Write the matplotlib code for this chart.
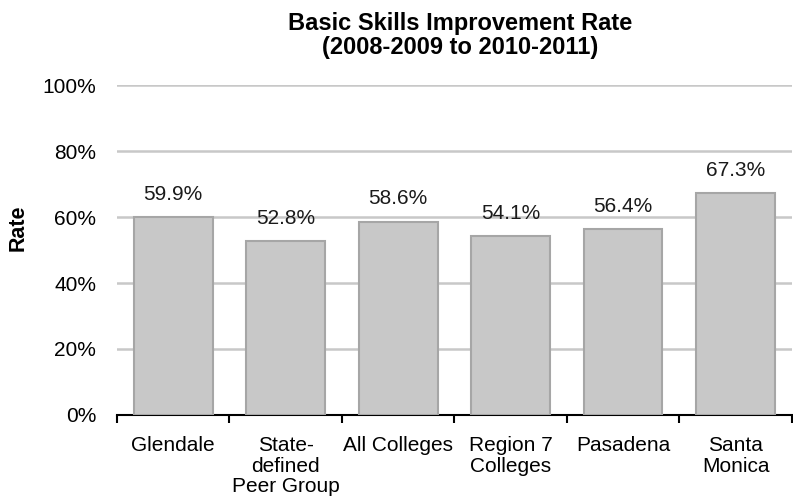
import matplotlib

matplotlib.use("Agg")
import matplotlib.pyplot as plt
import numpy as np

# ---------------------------------------------------------------------------
# Data
# ---------------------------------------------------------------------------
CATEGORIES = [
    "Glendale",
    "State-\ndefined\nPeer Group",
    "All Colleges",
    "Region 7\nColleges",
    "Pasadena",
    "Santa\nMonica",
]
RATES = [59.9, 52.8, 58.6, 54.1, 56.4, 67.3]
Y_TICKS = [0, 20, 40, 60, 80, 100]

plt.rcParams["font.family"] = ["Liberation Sans", "DejaVu Sans"]

fig = plt.figure(figsize=(7.93, 5.04), dpi=100)
ax = fig.add_axes([0.1475, 0.1766, 0.851, 0.6547])

x = np.arange(len(CATEGORIES))
ax.bar(x, RATES, width=0.7, color="#c8c8c8", edgecolor="#a6a6a6",
       linewidth=1.5, zorder=3)

for xi, v in zip(x, RATES):
    ax.text(xi, v + 4.0, f"{v:.1f}%", ha="center", va="bottom", fontsize=15,
            color="#1a1a1a")

ax.set_xlim(-0.5, len(CATEGORIES) - 0.5)
ax.set_ylim(0, 100)
ax.set_yticks(Y_TICKS)
ax.set_yticklabels([f"{t}%" for t in Y_TICKS], fontsize=15)
ax.yaxis.grid(True, color="#c8c8c8", linewidth=1.8, zorder=0)
ax.set_axisbelow(True)
ax.tick_params(axis="y", length=0, pad=15)

ax.set_xticks(x)
ax.set_xticklabels(CATEGORIES, fontsize=15, va="top", linespacing=1.12)
ax.tick_params(axis="x", length=0, pad=15)
ax.set_xticks(np.arange(-0.5, len(CATEGORIES)), minor=True)
ax.tick_params(axis="x", which="minor", length=6, width=1.5, color="black",
               direction="out")

for s in ["top", "right", "left"]:
    ax.spines[s].set_visible(False)
ax.spines["bottom"].set_linewidth(1.5)

# y-axis title, placed in figure coords
fig.text(18 / 793, 1 - 228 / 504, "Rate", rotation=90, ha="center",
         va="center", fontsize=15.5, fontweight="bold")

fig.text(0.58, 0.93, "Basic Skills Improvement Rate\n(2008-2009 to 2010-2011)",
         ha="center", va="center", fontsize=17, fontweight="bold",
         linespacing=1.08)

fig.savefig("out.png", dpi=100, facecolor="white")
